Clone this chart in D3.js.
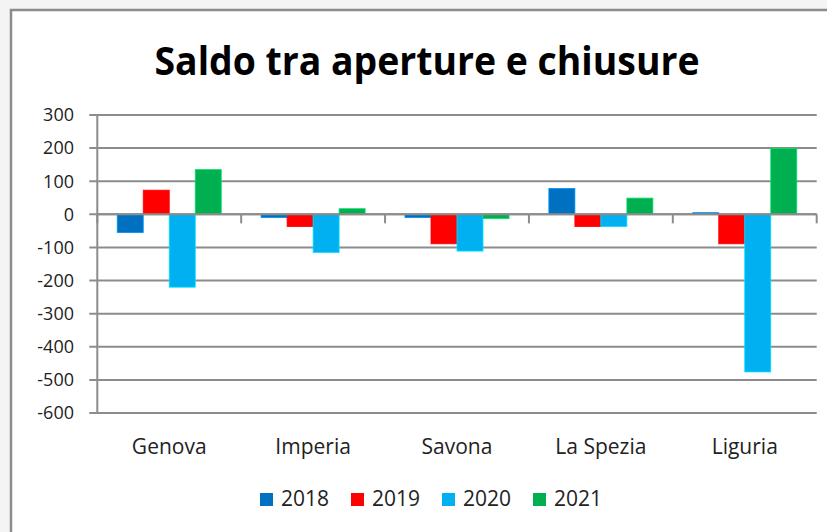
<!DOCTYPE html>
<html>
<head>
<meta charset="utf-8">
<script src="https://cdn.jsdelivr.net/npm/d3@7"></script>
<style>
    body { margin: 0; background: #f4f4f4; }
    text { font-family: "Open Sans", "Noto Sans", sans-serif; fill: #222; }
</style>
</head>
<body>
<svg id="chart" width="827" height="532"></svg>
<script>
var categories = ["Genova", "Imperia", "Savona", "La Spezia", "Liguria"];
var years = ["2018", "2019", "2020", "2021"];
var v2018 = [-55, -10, -10, 78, 5];
var v2019 = [73, -37, -89, -37, -89];
var v2020 = [-220, -115, -111, -37, -476];
var v2021 = [135, 17, -13, 49, 199];
var yTicks = [300, 200, 100, 0, -100, -200, -300, -400, -500, -600];
var colors = ["#0070C0", "#FF0000", "#00B0F0", "#00B050"];

var series = [v2018, v2019, v2020, v2021];

var svg = d3.select("#chart");

// chart area with its frame
svg.append("rect")
    .attr("x", 11).attr("y", 10)
    .attr("width", 840).attr("height", 540)
    .attr("fill", "#fff")
    .attr("stroke", "#8c8c8c")
    .attr("stroke-width", 2.5);

svg.append("text")
    .attr("x", 427).attr("y", 75)
    .attr("text-anchor", "middle")
    .attr("textLength", 545)
    .attr("lengthAdjust", "spacingAndGlyphs")
    .style("font-size", "39px")
    .style("font-weight", "bold")
    .style("fill", "#000")
    .text("Saldo tra aperture e chiusure");

var left = 97.3, right = 816.7;

var x = d3.scaleBand()
    .domain(categories)
    .range([left, right])
    .paddingInner(0.277)
    .paddingOuter(0.1385);

var xs = d3.scaleBand()
    .domain(years)
    .range([0, x.bandwidth()]);

var y = d3.scaleLinear()
    .domain([-600, 300])
    .range([413, 115]);

var grid = "#8c8c8c";

// horizontal gridlines (with the little outside tick)
svg.append("g")
    .selectAll("line")
    .data(yTicks)
    .enter().append("line")
    .attr("x1", left - 8).attr("x2", right)
    .attr("y1", function(d) { return y(d); })
    .attr("y2", function(d) { return y(d); })
    .attr("stroke", grid)
    .attr("stroke-width", 2);

svg.append("line")
    .attr("x1", left).attr("x2", left)
    .attr("y1", y(300)).attr("y2", y(-600))
    .attr("stroke", grid)
    .attr("stroke-width", 2);

// y labels
svg.append("g")
    .selectAll("text")
    .data(yTicks)
    .enter().append("text")
    .attr("x", 74)
    .attr("y", function(d) { return y(d); })
    .attr("dy", "0.35em")
    .attr("text-anchor", "end")
    .style("font-size", "18px")
    .text(function(d) { return d; });

// bars
var groups = svg.append("g")
    .selectAll("g")
    .data(categories)
    .enter().append("g")
    .attr("transform", function(d) { return "translate(" + x(d) + ",0)"; });

groups.selectAll("rect")
    .data(function(d, i) {
        return years.map(function(yr, j) { return { year: yr, value: series[j][i], color: colors[j] }; });
    })
    .enter().append("rect")
    .attr("x", function(d) { return xs(d.year); })
    .attr("width", xs.bandwidth())
    .attr("y", function(d) { return y(Math.max(0, d.value)); })
    .attr("height", function(d) { return Math.abs(y(d.value) - y(0)); })
    .attr("fill", function(d) { return d.color; })
    .attr("stroke", function(d) { return d3.color(d.color).brighter(0.7); })
    .attr("stroke-width", 0.8);

// zero line on top of bars + category ticks
svg.append("line")
    .attr("x1", left).attr("x2", right)
    .attr("y1", y(0)).attr("y2", y(0))
    .attr("stroke", grid)
    .attr("stroke-width", 2);

svg.append("g")
    .selectAll("line")
    .data(d3.range(categories.length + 1))
    .enter().append("line")
    .attr("x1", function(i) { return left + i * x.step(); })
    .attr("x2", function(i) { return left + i * x.step(); })
    .attr("y1", y(0)).attr("y2", y(0) + 9)
    .attr("stroke", grid)
    .attr("stroke-width", 2);

// category labels
svg.append("g")
    .selectAll("text")
    .data(categories)
    .enter().append("text")
    .attr("x", function(d) { return x(d) + x.bandwidth() / 2; })
    .attr("y", 454)
    .attr("text-anchor", "middle")
    .style("font-size", "21px")
    .text(function(d) { return d; });

// legend
var legend = svg.append("g")
    .selectAll("g")
    .data(years)
    .enter().append("g")
    .attr("transform", function(d, i) { return "translate(" + (260 + i * 91) + ",493)"; });

legend.append("rect")
    .attr("width", 13).attr("height", 13)
    .attr("fill", function(d, i) { return colors[i]; });

legend.append("text")
    .attr("x", 21).attr("y", 13)
    .style("font-size", "21px")
    .text(function(d) { return d; });
</script>
</body>
</html>
